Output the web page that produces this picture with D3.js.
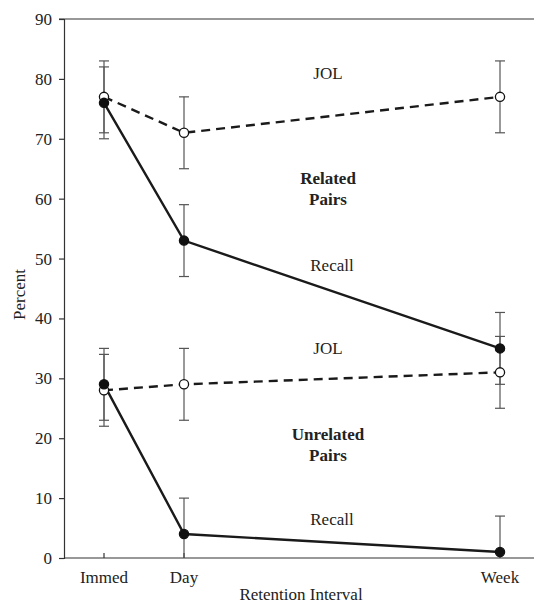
<!DOCTYPE html>
<html>
<head>
<meta charset="utf-8">
<script src="https://cdn.jsdelivr.net/npm/d3@7"></script>
<style>
  html, body { margin: 0; padding: 0; background: #fff; }
  svg { display: block; }
  text { font-family: "Liberation Serif", "DejaVu Serif", serif; fill: #222; }
</style>
</head>
<body>
<svg id="chart" width="534" height="605"></svg>
<script>
// ---- data ----
const categories = ["Immed", "Day", "Week"];
const categoryPos = [0, 1, 4.95];           // horizontal position (interval units as drawn)
const yTicks = [0, 10, 20, 30, 40, 50, 60, 70, 80, 90];

const relatedJOL      = [77, 71, 77];
const relatedJOLErr   = [6, 6, 6];
const relatedRecall   = [76, 53, 35];
const relatedRecallErr = [6, 6, 6];
const unrelatedJOL    = [28, 29, 31];
const unrelatedJOLErr = [6, 6, 6];
const unrelatedRecall = [29, 4, 1];
const unrelatedRecallErr = [6, 6, 6];

const series = [
  { name: "Related JOL", values: relatedJOL, err: relatedJOLErr, dashed: true },
  { name: "Unrelated JOL", values: unrelatedJOL, err: unrelatedJOLErr, dashed: true },
  { name: "Related Recall", values: relatedRecall, err: relatedRecallErr, dashed: false },
  { name: "Unrelated Recall", values: unrelatedRecall, err: unrelatedRecallErr, dashed: false }
];

const annotations = [
  { text: "JOL", x: 2.8, y: 79.9, bold: false },
  { text: "Related", x: 2.8, y: 62.4, bold: true },
  { text: "Pairs", x: 2.8, y: 58.9, bold: true },
  { text: "Recall", x: 2.85, y: 48.0, bold: false },
  { text: "JOL", x: 2.8, y: 34.1, bold: false },
  { text: "Unrelated", x: 2.8, y: 19.7, bold: true },
  { text: "Pairs", x: 2.8, y: 16.2, bold: true },
  { text: "Recall", x: 2.85, y: 5.5, bold: false }
];

// ---- layout ----
const svg = d3.select("#chart");
const mLeft = 64, mRight = 534, mTop = 19, mBottom = 558;

const x = d3.scaleLinear().domain([0, 4.95]).range([104, 500]);
const y = d3.scaleLinear().domain([0, 90]).range([mBottom, mTop]);

// top line
svg.append("line")
  .attr("x1", mLeft - 5).attr("x2", mRight)
  .attr("y1", y(90)).attr("y2", y(90))
  .attr("stroke", "#333").attr("stroke-width", 1.2);

// y axis
const yAxis = svg.append("g")
  .attr("transform", `translate(${mLeft},0)`)
  .call(d3.axisLeft(y).tickValues(yTicks).tickSize(5).tickPadding(7));
yAxis.select(".domain").attr("stroke", "#333").attr("stroke-width", 1.2);
yAxis.selectAll(".tick line").attr("stroke", "#333").attr("stroke-width", 1.2);
yAxis.selectAll(".tick text")
  .style("font-family", '"Liberation Serif", serif')
  .style("font-size", "17px").attr("fill", "#222");

// x axis (line across bottom + inward ticks)
svg.append("line")
  .attr("x1", mLeft).attr("x2", mRight)
  .attr("y1", mBottom).attr("y2", mBottom)
  .attr("stroke", "#333").attr("stroke-width", 1.2);
const xg = svg.append("g");
categories.forEach((c, i) => {
  xg.append("line")
    .attr("x1", x(categoryPos[i])).attr("x2", x(categoryPos[i]))
    .attr("y1", mBottom).attr("y2", mBottom - 5)
    .attr("stroke", "#333").attr("stroke-width", 1.2);
  xg.append("text")
    .attr("x", x(categoryPos[i])).attr("y", mBottom + 25)
    .attr("text-anchor", "middle")
    .style("font-size", "17px")
    .text(c);
});

// axis titles
svg.append("text")
  .attr("x", 301).attr("y", 600)
  .attr("text-anchor", "middle")
  .style("font-size", "17px")
  .text("Retention Interval");
svg.append("text")
  .attr("transform", `translate(25,${y(44)}) rotate(-90)`)
  .attr("text-anchor", "middle")
  .style("font-size", "17px")
  .text("Percent");

// error bars
const eb = svg.append("g");
series.forEach(s => {
  s.values.forEach((v, i) => {
    const cx = x(categoryPos[i]);
    const hi = v + s.err[i], lo = v - s.err[i];
    const loC = Math.max(lo, 0);
    eb.append("line")
      .attr("x1", cx).attr("x2", cx)
      .attr("y1", y(hi)).attr("y2", y(loC))
      .attr("stroke", "#555").attr("stroke-width", 1.2);
    [hi, lo].forEach(val => {
      if (val < 0) return;
      eb.append("line")
        .attr("x1", cx - 5).attr("x2", cx + 5)
        .attr("y1", y(val)).attr("y2", y(val))
        .attr("stroke", "#555").attr("stroke-width", 1.2);
    });
  });
});

// lines
const line = d3.line().x((d, i) => x(categoryPos[i])).y(d => y(d));
series.forEach(s => {
  svg.append("path")
    .datum(s.values)
    .attr("d", line)
    .attr("fill", "none")
    .attr("stroke", "#1a1a1a")
    .attr("stroke-width", 2.4)
    .attr("stroke-dasharray", s.dashed ? "9,6" : null);
});

// markers
series.forEach(s => {
  svg.append("g").selectAll("circle")
    .data(s.values)
    .join("circle")
    .attr("cx", (d, i) => x(categoryPos[i]))
    .attr("cy", d => y(d))
    .attr("r", 4.6)
    .attr("fill", s.dashed ? "#fff" : "#111")
    .attr("stroke", "#111")
    .attr("stroke-width", 1.3);
});

// annotations
annotations.forEach(a => {
  svg.append("text")
    .attr("x", x(a.x)).attr("y", y(a.y))
    .attr("text-anchor", "middle")
    .style("font-size", "17px")
    .style("font-weight", a.bold ? "bold" : "normal")
    .text(a.text);
});
</script>
</body>
</html>
